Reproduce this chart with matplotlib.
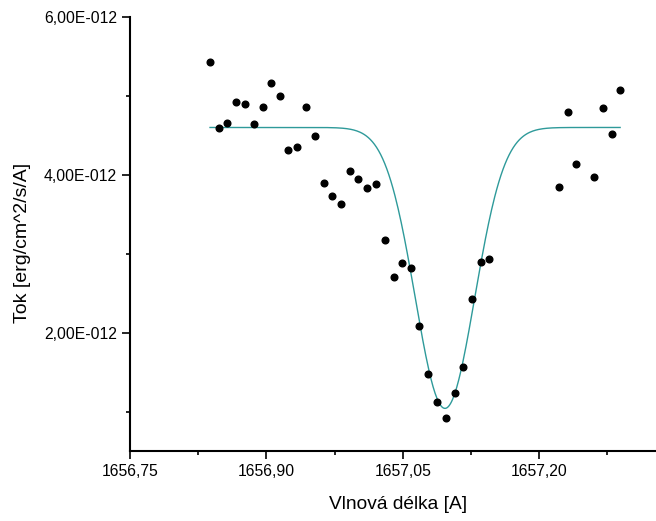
import numpy as np
import matplotlib
matplotlib.use('Agg')
import matplotlib.pyplot as plt
from matplotlib.ticker import FixedLocator, FuncFormatter

plt.rcParams['font.family'] = ['Liberation Sans', 'DejaVu Sans']

# measured points: wavelength [A], flux [1e-12 erg/cm^2/s/A]
wavelength = [
    1656.838, 1656.848, 1656.857, 1656.867, 1656.876, 1656.886, 1656.896, 1656.905,
    1656.915, 1656.924, 1656.934, 1656.944, 1656.953, 1656.963, 1656.972, 1656.982,
    1656.992, 1657.001, 1657.011, 1657.020, 1657.030, 1657.040, 1657.049, 1657.059,
    1657.068, 1657.078, 1657.088, 1657.097, 1657.107, 1657.116, 1657.126, 1657.136,
    1657.145, 1657.222, 1657.232, 1657.241, 1657.260, 1657.270, 1657.280, 1657.289,
]
flux = [
    5.43, 4.59, 4.66, 4.92, 4.90, 4.65, 4.86, 5.16,
    5.00, 4.32, 4.35, 4.86, 4.49, 3.89, 3.73, 3.63,
    4.05, 3.95, 3.83, 3.88, 3.18, 2.71, 2.88, 2.82,
    2.08, 1.475, 1.12, 0.92, 1.23, 1.56, 2.42, 2.89,
    2.93, 3.84, 4.80, 4.14, 3.97, 4.85, 4.52, 5.07,
]

# gaussian fit of the absorption line
fit_continuum = 4.60
fit_depth = 3.56
fit_center = 1657.0964
fit_sigma = 0.0327

x_ticks = [1656.75, 1656.90, 1657.05, 1657.20]
y_ticks = [2e-12, 4e-12, 6e-12]


def fmt_x(v, pos):
    return f"{v:.2f}".replace('.', ',')


def fmt_y(v, pos):
    mant, exp = f"{v:.2E}".split('E')
    exp = int(exp)
    sign = '-' if exp < 0 else '+'
    return f"{mant.replace('.', ',')}E{sign}{abs(exp):03d}"


x = np.array(wavelength)
y = np.array(flux) * 1e-12

xf = np.linspace(x.min(), x.max(), 400)
yf = (fit_continuum - fit_depth * np.exp(-0.5 * ((xf - fit_center) / fit_sigma) ** 2)) * 1e-12

fig = plt.figure(figsize=(6.56, 5.21), dpi=100)
ax = fig.add_axes([130 / 656, 1 - 451 / 521, 526 / 656, 434 / 521])

ax.plot(xf, yf, color='#2e9a9a', lw=1.0)
ax.plot(x, y, 'o', color='black', ms=4.8, mec='black')

ax.set_xlim(1656.75, 1656.75 + 526 / 909.3)
ax.set_ylim(0.5e-12, 6e-12)

ax.xaxis.set_major_locator(FixedLocator(x_ticks))
ax.xaxis.set_minor_locator(FixedLocator([v + 0.075 for v in x_ticks]))
ax.yaxis.set_major_locator(FixedLocator(y_ticks))
ax.yaxis.set_minor_locator(FixedLocator([1e-12, 3e-12, 5e-12]))
ax.xaxis.set_major_formatter(FuncFormatter(fmt_x))
ax.yaxis.set_major_formatter(FuncFormatter(fmt_y))

for side in ['top', 'right']:
    ax.spines[side].set_visible(False)
for side in ['left', 'bottom']:
    ax.spines[side].set_linewidth(1.5)

ax.tick_params(which='major', direction='out', length=5.5, width=1.2, labelsize=11.3, pad=4)
ax.tick_params(which='minor', direction='out', length=3, width=1.2)

ax.set_xlabel('Vlnová délka [A]', fontsize=13.8, labelpad=12)
ax.set_ylabel('Tok [erg/cm^2/s/A]', fontsize=14, labelpad=9)
ax.xaxis.label.set_x(0.5095)
ax.yaxis.label.set_y(0.48)

fig.savefig('out.png', dpi=100)
